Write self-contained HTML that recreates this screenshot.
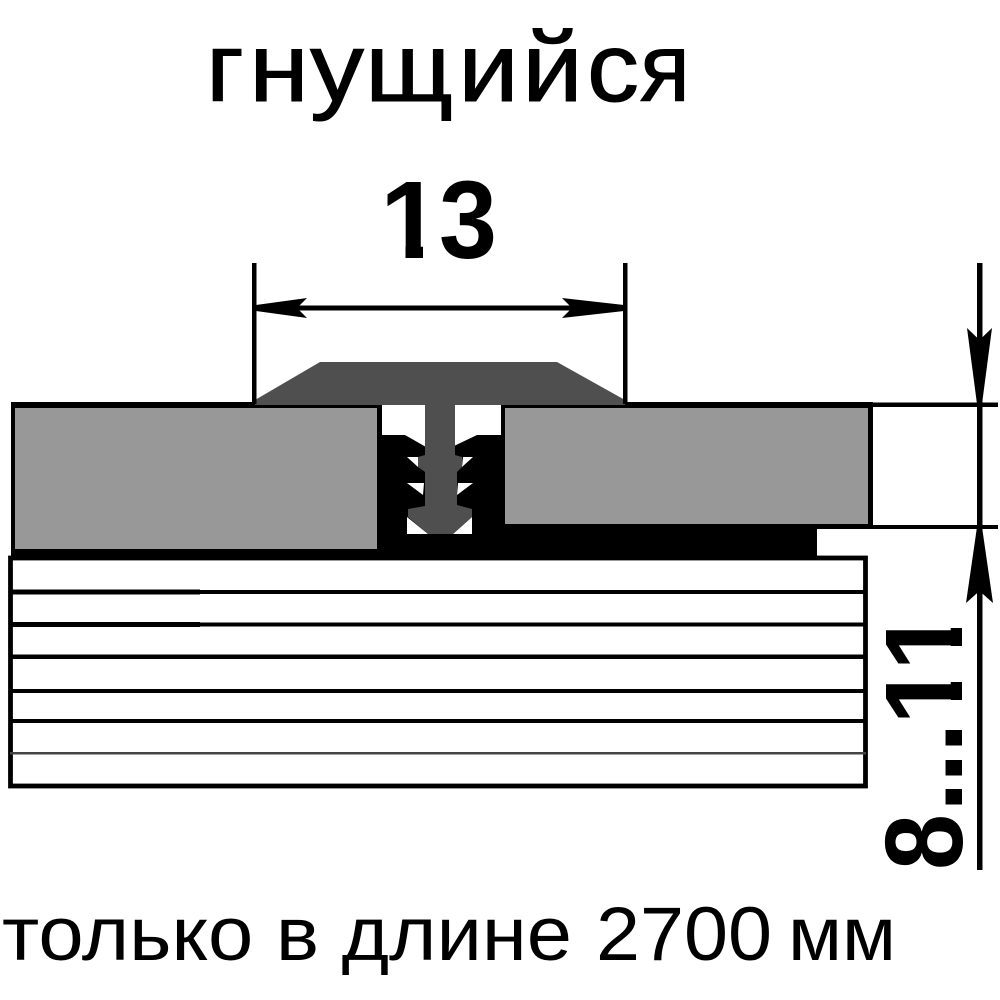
<!DOCTYPE html>
<html><head><meta charset="utf-8"><style>html,body{margin:0;padding:0;background:#fff}svg{display:block}</style></head>
<body><svg width="1000" height="1000" viewBox="0 0 1000 1000" xmlns="http://www.w3.org/2000/svg">
<rect width="1000" height="1000" fill="#fff"/>
<g font-family="Liberation Sans, sans-serif" font-size="97" fill="#000" stroke="#000" stroke-width="1">
<text x="206" y="101" textLength="38" lengthAdjust="spacingAndGlyphs">г</text>
<text x="249" y="101" textLength="60" lengthAdjust="spacingAndGlyphs">н</text>
<text x="310" y="101" textLength="54" lengthAdjust="spacingAndGlyphs">у</text>
<text x="365" y="101" textLength="88" lengthAdjust="spacingAndGlyphs">щ</text>
<text x="458" y="101" textLength="61" lengthAdjust="spacingAndGlyphs">и</text>
<text x="522" y="101" textLength="61" lengthAdjust="spacingAndGlyphs">й</text>
<text x="587" y="101" textLength="52" lengthAdjust="spacingAndGlyphs">с</text>
<text x="640" y="101" textLength="50" lengthAdjust="spacingAndGlyphs">я</text>
</g>
<text x="380" y="258" font-family="Liberation Sans, sans-serif" font-weight="bold" font-size="110" fill="#000">1</text>
<rect x="375" y="245" width="30.5" height="15" fill="#fff"/><rect x="423" y="245" width="18" height="15" fill="#fff"/>
<text x="439" y="258" font-family="Liberation Sans, sans-serif" font-weight="bold" font-size="110" textLength="58" lengthAdjust="spacingAndGlyphs" fill="#000">3</text>
<!-- board -->
<rect x="10.5" y="558" width="855" height="228" fill="#fff" stroke="#000" stroke-width="4.8"/>
<g fill="#000"><rect x="10" y="590" width="856" height="4"/><rect x="10" y="622.5" width="856" height="4"/><rect x="10" y="654.5" width="856" height="4.5"/><rect x="10" y="689" width="856" height="4"/><rect x="10" y="719" width="856" height="4"/><rect x="10" y="752" width="856" height="2.5" fill="#444"/>
<rect x="10" y="589.5" width="190" height="5"/><rect x="10" y="622" width="190" height="5"/></g>
<!-- adhesive and channel -->
<rect x="378" y="527" width="439" height="33" fill="#000"/>
<rect x="380" y="435" width="124" height="125" fill="#000"/>
<!-- left panel -->
<rect x="11" y="402" width="371" height="158" fill="#000"/>
<rect x="15" y="408" width="362" height="141" fill="#989898"/>
<!-- right panel -->
<rect x="501" y="402" width="372" height="127" fill="#000"/>
<rect x="505" y="408" width="363" height="116" fill="#989898"/>
<!-- cavity -->
<g fill="#fff">
<polygon points="382,406 426,406 426,447 405,435 382,435"/>
<polygon points="454,406 501,406 501,435 477,435 454,446"/>
<polygon points="407,457 418,457 418,467"/>
<polygon points="463,457 473,457 462,467"/>
<polygon points="407,483 424,483 423,495"/>
<polygon points="457,495 458,483 473,483"/>
<polygon points="407,517 428,534 407,534"/>
<polygon points="472,517 472,534 453,534"/>
</g>
<!-- T profile -->
<polygon fill="#4f4f4f" points="255,400 320,362 557,362 625,400 625,405 455,405 455,455 462,457 462,467 457,472 457,505 472,509 472,517 453,534 428,534 408,517 408,509 425,506 425,472 418,467 418,457 425,455 425,405 255,405"/>
<!-- dim 13 -->
<g fill="#000">
<rect x="252" y="263" width="4.5" height="141"/>
<rect x="623" y="263" width="4.5" height="141"/>
<rect x="256" y="305.5" width="368" height="5"/>
<polygon points="256,305 307,298 297,308 307,318 256,311"/>
<polygon points="624,305 562,298 572,308 562,318 624,311"/>
<!-- right dim -->
<rect x="977" y="263" width="5.5" height="607"/>
<rect x="870" y="402.5" width="128" height="4.5"/>
<rect x="815" y="525" width="183" height="4"/>
<rect x="868" y="402" width="5" height="127"/>
<polygon points="977,404 967,328 979.5,340 992,328 982,404"/>
<polygon points="977,527 966,603 979.5,591 993,603 982,527"/>
</g>
<g font-family="Liberation Sans, sans-serif" font-weight="bold" font-size="110" fill="#000">
<text transform="translate(962,671) rotate(-90)">1</text>
<text transform="translate(962,725) rotate(-90)">1</text>
</g>
<g fill="#fff"><rect x="947" y="605" width="18" height="23"/><rect x="947" y="646" width="18" height="36"/><rect x="947" y="700" width="18" height="30"/></g>
<g font-family="Liberation Sans, sans-serif" font-weight="bold" font-size="110" fill="#000">
<text transform="translate(962,753) rotate(-90)">.</text>
<text transform="translate(962,783) rotate(-90)">.</text>
<text transform="translate(962,812) rotate(-90)">.</text>
<text transform="translate(962,870) rotate(-90)" textLength="56" lengthAdjust="spacingAndGlyphs">8</text>
</g>
<g font-family="Liberation Sans, sans-serif" font-size="76" fill="#000">
<text x="2" y="960" textLength="570" lengthAdjust="spacingAndGlyphs">только в длине</text>
<text x="596" y="960" textLength="176" lengthAdjust="spacingAndGlyphs">2700</text>
<text x="788" y="960" textLength="108" lengthAdjust="spacingAndGlyphs">мм</text>
</g>
</svg></body></html>
